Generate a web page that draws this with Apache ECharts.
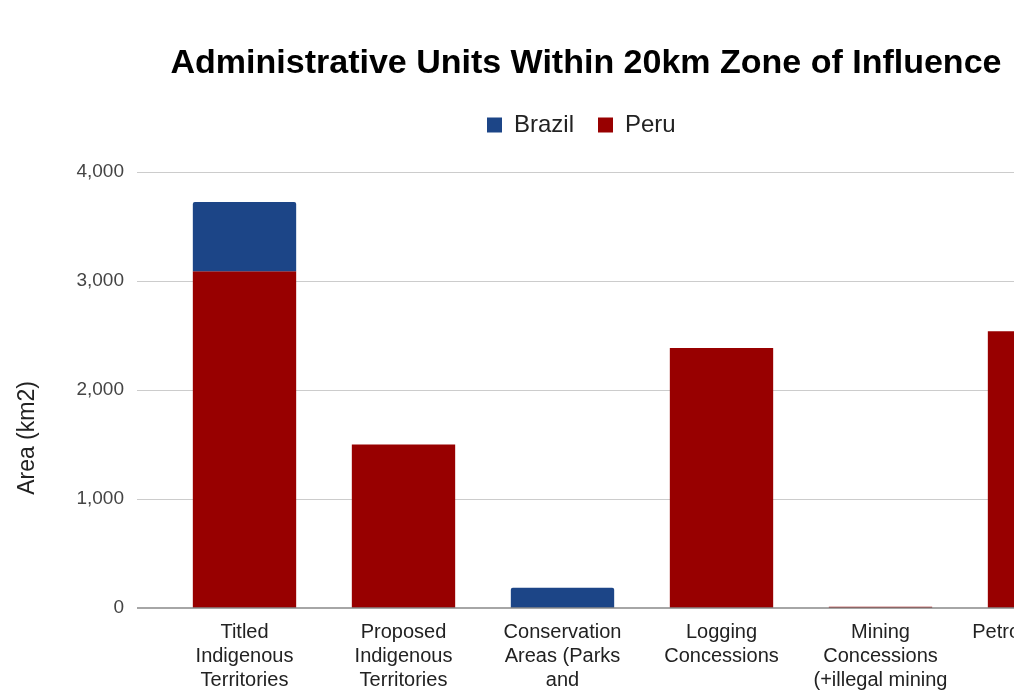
<!DOCTYPE html>
<html>
<head>
<meta charset="utf-8">
<script src="https://cdn.jsdelivr.net/npm/echarts@6/dist/echarts.min.js"></script>
<style>
  html, body { margin: 0; padding: 0; overflow: hidden; background: #fff; }
  #chart { width: 1162px; height: 800px; }
</style>
</head>
<body>
<div id="chart"></div>
<script>
// data
var categories = [
  'Titled\nIndigenous\nTerritories',
  'Proposed\nIndigenous\nTerritories',
  'Conservation\nAreas (Parks\nand\nReserves)',
  'Logging\nConcessions',
  'Mining\nConcessions\n(+illegal mining\nareas)',
  'Petroleum Lots'
]
var brazil = [635, 0, 185, 0, 0, 0]
var peru = [3090, 1500, 0, 2385, 12, 2540]
var yTicks = [0, 1000, 2000, 3000, 4000]

var font = 'Arial, "Liberation Sans", sans-serif'
var chart = echarts.init(document.getElementById('chart'))

var option = {
  backgroundColor: '#ffffff',
  animation: false,
  title: {
    text: 'Administrative Units Within 20km Zone of Influence',
    left: 581,
    textAlign: 'center',
    top: 42,
    textStyle: { fontFamily: font, fontSize: 34, fontWeight: 'bold', color: '#000' }
  },
  legend: {
    data: ['Brazil', 'Peru'],
    left: 482,
    top: 108,
    itemWidth: 15,
    itemHeight: 15,
    itemGap: 24,
    icon: 'rect',
    textStyle: { fontFamily: font, fontSize: 24, color: '#222', padding: [0, 0, 0, 7] }
  },
  graphic: [{
    type: 'text',
    x: 28,
    y: 438,
    rotation: Math.PI / 2,
    style: {
      text: 'Area (km2)',
      fontFamily: font,
      fontSize: 23,
      fill: '#222',
      align: 'center',
      verticalAlign: 'middle'
    }
  }],
  grid: [
    { left: 137, width: 1010, top: 172, height: 436 }, // gridlines
    { left: 165, width: 954, top: 172, height: 436 }   // bars
  ],
  xAxis: [
    {
      type: 'value', gridIndex: 0, min: 0, max: 1,
      axisLabel: { show: false }, splitLine: { show: false },
      axisTick: { show: false },
      axisLine: { show: false }
    },
    {
      type: 'category', gridIndex: 1, data: categories,
      axisLine: { show: false },
      axisTick: { show: false },
      axisLabel: {
        interval: 0, margin: 12,
        fontFamily: font, fontSize: 20, lineHeight: 24, color: '#222'
      }
    }
  ],
  yAxis: [
    {
      type: 'value', gridIndex: 0,
      min: yTicks[0], max: yTicks[yTicks.length - 1], interval: 1000,
      axisLine: { show: false },
      axisTick: { show: false },
      axisLabel: {
        margin: 13, fontFamily: font, fontSize: 19, color: '#444',
        formatter: function (v) { return v.toLocaleString('en-US') }
      },
      splitLine: { lineStyle: { color: '#cccccc', width: 1 } }
    },
    {
      type: 'value', gridIndex: 1,
      min: yTicks[0], max: yTicks[yTicks.length - 1], interval: 1000,
      show: false, splitLine: { show: false }
    }
  ],
  series: [
    {
      name: 'Peru', type: 'bar', stack: 'a',
      xAxisIndex: 1, yAxisIndex: 1,
      data: peru,
      barCategoryGap: '35%',
      itemStyle: { color: '#980000' }
    },
    {
      name: 'Brazil', type: 'bar', stack: 'a',
      xAxisIndex: 1, yAxisIndex: 1,
      data: brazil,
      barCategoryGap: '35%',
      itemStyle: { color: '#1c4587', borderRadius: [2, 2, 0, 0] }
    },
    {
      // baseline at zero
      type: 'line', xAxisIndex: 0, yAxisIndex: 0,
      data: [[0, 0], [1, 0]],
      symbol: 'none', silent: true,
      lineStyle: { color: '#888888', width: 1.5 }
    }
  ]
}
chart.setOption(option)
</script>
</body>
</html>
